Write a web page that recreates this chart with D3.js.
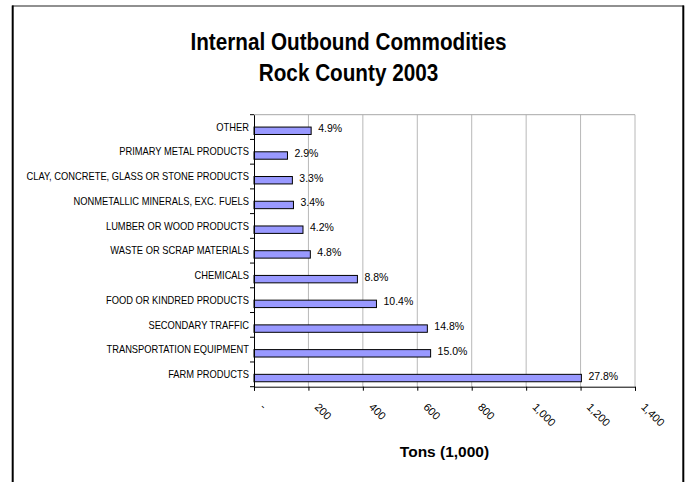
<!DOCTYPE html>
<html>
<head>
<meta charset="utf-8">
<script src="https://cdn.jsdelivr.net/npm/d3@7/dist/d3.min.js"></script>
<style>
  html, body { margin: 0; padding: 0; background: #fff; }
  svg { display: block; }
  text { font-family: Arial, "Liberation Sans", sans-serif; fill: #000; }
</style>
</head>
<body>
<svg id="chart" width="690" height="482"></svg>
<script>
// ---- data (top to bottom as shown) ----
const categories = [
  "OTHER",
  "PRIMARY METAL PRODUCTS",
  "CLAY, CONCRETE, GLASS OR STONE PRODUCTS",
  "NONMETALLIC MINERALS, EXC. FUELS",
  "LUMBER OR WOOD PRODUCTS",
  "WASTE OR SCRAP MATERIALS",
  "CHEMICALS",
  "FOOD OR KINDRED PRODUCTS",
  "SECONDARY TRAFFIC",
  "TRANSPORTATION EQUIPMENT",
  "FARM PRODUCTS"
];
const tons = [210, 123, 141, 145, 180, 207, 380, 450, 637, 649, 1203];
const shares = ["4.9%", "2.9%", "3.3%", "3.4%", "4.2%", "4.8%", "8.8%", "10.4%", "14.8%", "15.0%", "27.8%"];
const xTickValues = [0, 200, 400, 600, 800, 1000, 1200, 1400];
const xTickLabels = ["-", "200", "400", "600", "800", "1,000", "1,200", "1,400"];
const titleLines = ["Internal Outbound Commodities", "Rock County 2003"];
const xTitle = "Tons (1,000)";

// ---- layout ----
const svg = d3.select("#chart");
const plot = { left: 254, right: 635, top: 114.7, bottom: 386.7 };

const x = d3.scaleLinear().domain([0, 1400]).range([plot.left, plot.right]);
const y = d3.scaleBand().domain(categories).range([plot.top, plot.bottom]).paddingInner(0).paddingOuter(0);
const bw = y.bandwidth();

// outer frame
svg.append("line").attr("x1", 12).attr("x2", 684).attr("y1", 6).attr("y2", 6)
  .attr("stroke", "#222").attr("stroke-width", 1.2);
svg.append("line").attr("x1", 12.7).attr("x2", 12.7).attr("y1", 5.4).attr("y2", 482)
  .attr("stroke", "#000").attr("stroke-width", 2);
svg.append("line").attr("x1", 683.3).attr("x2", 683.3).attr("y1", 5.4).attr("y2", 482)
  .attr("stroke", "#000").attr("stroke-width", 2);

// title
const tScale = 0.9;
titleLines.forEach((t, i) => {
  svg.append("text")
    .attr("transform", `translate(348.5, ${50 + i * 31}) scale(${tScale},1)`)
    .attr("text-anchor", "middle")
    .attr("font-weight", "bold")
    .attr("font-size", 23)
    .text(t);
});

// gridlines
svg.append("g").selectAll("line").data(xTickValues.slice(1)).join("line")
  .attr("x1", d => x(d)).attr("x2", d => x(d))
  .attr("y1", plot.top).attr("y2", plot.bottom)
  .attr("stroke", "#b8b8b8").attr("stroke-width", 1);
// plot top border
svg.append("line").attr("x1", plot.left).attr("x2", plot.right)
  .attr("y1", plot.top).attr("y2", plot.top)
  .attr("stroke", "#a8a8a8").attr("stroke-width", 1);

// bars
svg.append("g").selectAll("rect").data(categories).join("rect")
  .attr("x", plot.left)
  .attr("y", d => y(d) + bw / 2)
  .attr("width", (d, i) => x(tons[i]) - x(0))
  .attr("height", bw * 0.3)
  .attr("fill", "#9999ff")
  .attr("stroke", "#000")
  .attr("stroke-width", 1);

// value labels
svg.append("g").selectAll("text").data(categories).join("text")
  .attr("x", (d, i) => x(tons[i]) + 7)
  .attr("y", d => y(d) + bw / 2 + 1.5)
  .attr("dy", "0.35em")
  .attr("font-size", 10.5)
  .attr("fill", "#111")
  .text((d, i) => shares[i]);

// y axis (categories)
const lScale = 0.89;
const yAxis = d3.axisLeft(y).tickSize(0).tickPadding(0);
const gy = svg.append("g").attr("transform", `translate(${plot.left},0)`).call(yAxis);
gy.select(".domain").attr("stroke", "#000").attr("stroke-width", 1);
gy.selectAll(".tick text")
  .attr("x", null).attr("dy", null)
  .attr("transform", `translate(-5,0) scale(${lScale},1)`)
  .attr("dy", "0.35em")
  .attr("font-size", 10.5)
  .attr("font-family", "Arial, 'Liberation Sans', sans-serif")
  .attr("fill", "#111");
// boundary ticks between categories
const bounds = categories.map(c => y(c)).concat([plot.bottom]);
svg.append("g").selectAll("line").data(bounds).join("line")
  .attr("x1", plot.left - 4).attr("x2", plot.left)
  .attr("y1", d => d).attr("y2", d => d)
  .attr("stroke", "#000").attr("stroke-width", 1);

// x axis
const xAxis = d3.axisBottom(x).tickValues(xTickValues).tickSize(4)
  .tickFormat((d, i) => xTickLabels[i]);
const gx = svg.append("g").attr("transform", `translate(0,${plot.bottom})`).call(xAxis);
gx.select(".domain").attr("stroke", "#000").attr("stroke-width", 1);
gx.selectAll(".tick line").attr("stroke", "#000");
gx.selectAll(".tick text")
  .attr("y", null).attr("dy", null)
  .attr("text-anchor", "start")
  .attr("transform", "translate(5,21) rotate(45)")
  .attr("font-size", 11)
  .attr("font-family", "Arial, 'Liberation Sans', sans-serif")
  .attr("fill", "#111");

// x title
svg.append("text")
  .attr("x", (plot.left + plot.right) / 2)
  .attr("y", 457)
  .attr("text-anchor", "middle")
  .attr("font-weight", "bold")
  .attr("font-size", 15.5)
  .text(xTitle);
</script>
</body>
</html>
